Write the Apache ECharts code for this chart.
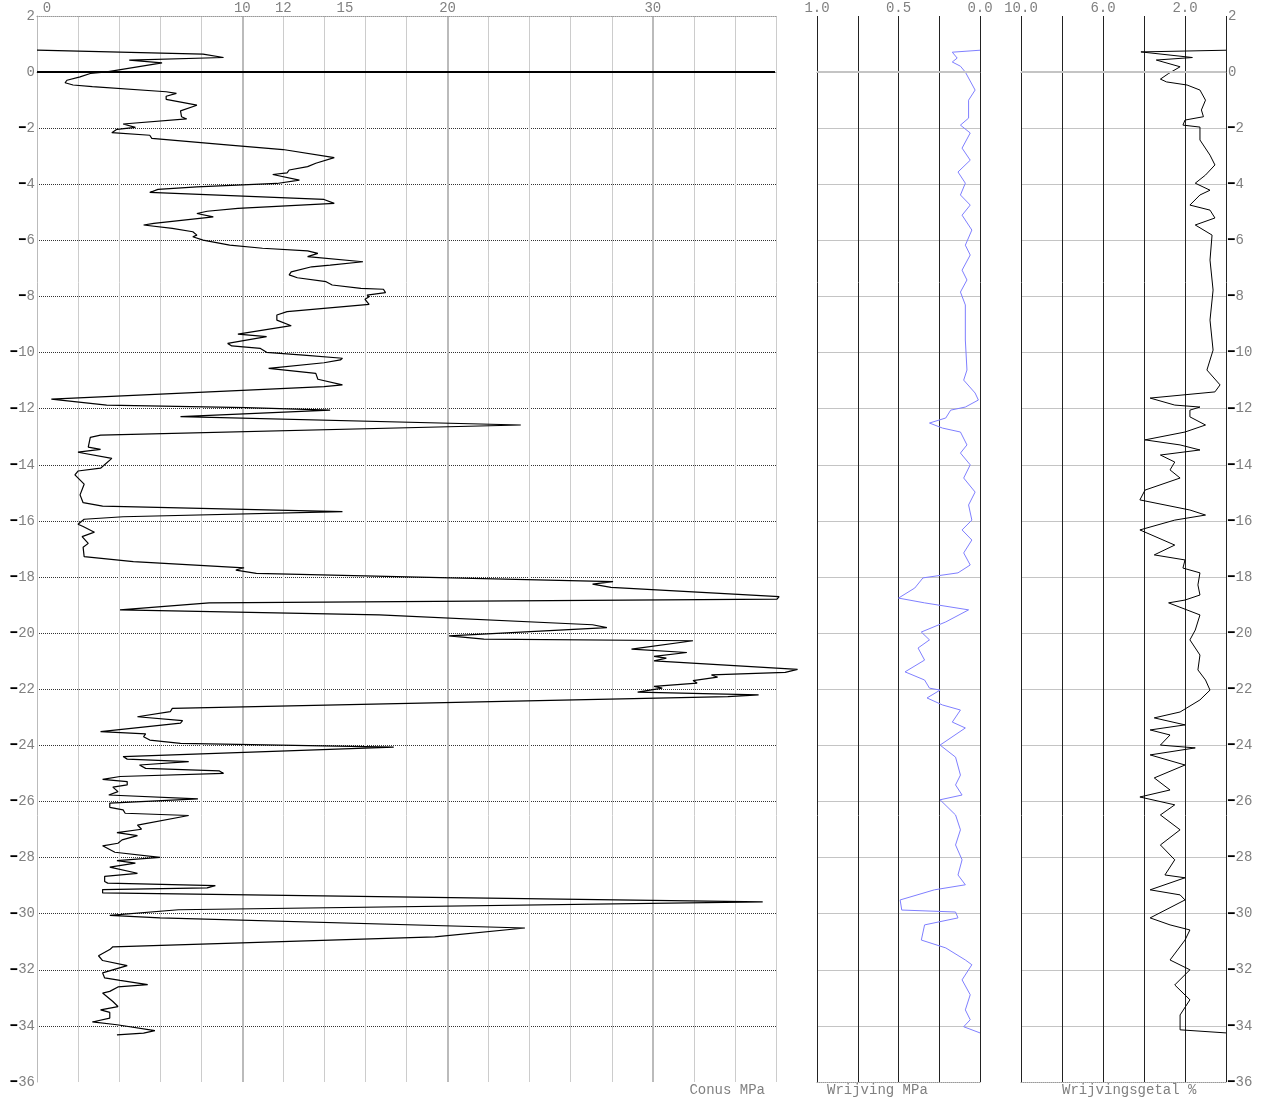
<!DOCTYPE html>
<html>
<head>
<meta charset="utf-8">
<script src="https://cdn.jsdelivr.net/npm/echarts@6/dist/echarts.min.js"></script>
<style>html,body{margin:0;padding:0;background:#fff}#c{width:1267px;height:1102px}</style>
</head>
<body>
<div id="c"></div>
<script>
// Conus [MPa, depth m]
const conus = [
[0,0.78],[8.1,0.64],[9.1,0.52],[4.5,0.43],[6.1,0.33],[3.4,0.01],[2.6,-0.05],[2.1,-0.17],[1.46,-0.29],[1.37,-0.38],[1.76,-0.46],[2.7,-0.52],
[6.3,-0.70],[6.8,-0.76],[6.3,-0.86],[6.3,-0.97],[7.8,-1.18],[7.0,-1.38],[7.05,-1.59],[7.3,-1.67],[4.2,-1.85],[4.8,-1.97],[3.9,-2.04],[3.65,-2.16],
[5.5,-2.25],[5.6,-2.36],[9.4,-2.60],[12.0,-2.76],[14.5,-3.05],[13.6,-3.25],[13.2,-3.37],[12.3,-3.49],[12.2,-3.59],[11.5,-3.65],[12.8,-3.85],[11.7,-3.97],
[7.8,-4.09],[5.9,-4.18],[5.5,-4.29],[14.0,-4.54],[14.5,-4.68],[9.8,-4.86],[8.3,-4.96],[7.8,-5.04],[8.6,-5.16],[5.7,-5.39],[5.2,-5.45],[6.6,-5.57],
[7.6,-5.69],[7.8,-5.81],[7.6,-5.87],[8.1,-5.99],[9.4,-6.17],[11.0,-6.28],[13.2,-6.37],[13.7,-6.46],[13.2,-6.58],[15.9,-6.76],[14.3,-6.88],[13.4,-6.94],
[12.4,-7.12],[12.3,-7.23],[12.7,-7.33],[14.1,-7.47],[14.4,-7.59],[15.8,-7.71],[16.9,-7.74],[17.0,-7.86],[16.1,-7.95],[16.2,-8.01],[16.0,-8.10],[16.2,-8.28],
[12.2,-8.54],[11.7,-8.66],[11.7,-8.84],[12.4,-9.04],[9.8,-9.34],[11.2,-9.43],[9.3,-9.67],[9.5,-9.76],[10.9,-9.85],[11.2,-9.99],[13.0,-10.09],[14.9,-10.20],
[14.8,-10.26],[14.0,-10.36],[11.3,-10.56],[13.6,-10.74],[13.7,-10.95],[14.9,-11.15],[14.0,-11.21],[0.7,-11.66],[3.4,-11.87],[10.2,-11.96],[14.3,-12.05],
[7.0,-12.28],[23.6,-12.58],[3.1,-12.94],[2.6,-13.02],[2.5,-13.37],[3.1,-13.45],[2.0,-13.55],[3.65,-13.77],[3.1,-14.12],[2.0,-14.22],[1.85,-14.36],
[2.3,-14.69],[2.1,-15.07],[2.25,-15.35],[3.2,-15.47],[14.9,-15.67],[4.2,-15.85],[2.3,-15.94],[2.0,-16.12],[2.25,-16.20],[2.8,-16.40],[2.2,-16.56],
[2.5,-16.80],[2.25,-16.94],[2.3,-17.27],[4.7,-17.45],[10.1,-17.67],[9.7,-17.75],[10.7,-17.87],[28.1,-18.16],[27.1,-18.25],[28.0,-18.37],[36.2,-18.70],
[36.1,-18.79],[8.4,-18.92],[4.05,-19.17],[16.7,-19.35],[27.1,-19.70],[27.8,-19.80],[20.1,-20.10],[21.8,-20.21],[32.0,-20.27],[29.0,-20.57],[31.7,-20.69],
[30.1,-20.83],[30.7,-20.89],[30.1,-20.99],[37.1,-21.29],[36.5,-21.40],[32.9,-21.49],[33.2,-21.57],[32.0,-21.69],[32.2,-21.78],[30.1,-21.90],[30.5,-21.96],
[29.3,-22.10],[35.2,-22.20],[33.7,-22.26],[6.6,-22.68],[6.5,-22.80],[4.9,-22.98],[7.1,-23.12],[7.0,-23.21],[3.1,-23.51],[5.3,-23.59],[5.2,-23.69],
[5.5,-23.81],[7.0,-23.93],[17.4,-24.06],[4.2,-24.40],[4.4,-24.49],[7.4,-24.58],[5.0,-24.70],[5.3,-24.82],[8.9,-24.91],[9.1,-25.00],[4.05,-25.11],
[3.2,-25.21],[4.4,-25.29],[4.4,-25.41],[3.7,-25.49],[3.95,-25.65],[3.5,-25.77],[3.55,-25.82],[7.85,-25.91],[3.55,-26.06],[3.55,-26.21],[4.2,-26.30],
[4.3,-26.42],[7.4,-26.50],[4.9,-26.84],[5.1,-26.99],[3.9,-27.11],[4.9,-27.22],[4.15,-27.37],[3.95,-27.49],[3.2,-27.58],[3.8,-27.81],[6.0,-27.99],
[3.9,-28.11],[4.8,-28.20],[3.55,-28.34],[4.9,-28.56],[3.3,-28.67],[3.3,-28.85],[3.45,-28.91],[8.7,-29.00],[8.3,-29.08],[3.2,-29.14],[3.2,-29.26],
[35.4,-29.58],[6.9,-29.86],[3.55,-30.06],[6.0,-30.15],[23.8,-30.51],[19.4,-30.83],[3.7,-31.18],[3.55,-31.28],[3.0,-31.50],[3.2,-31.67],[4.4,-31.85],
[3.2,-32.11],[3.3,-32.29],[4.05,-32.38],[5.4,-32.53],[3.95,-32.61],[3.55,-32.77],[3.2,-32.83],[3.7,-33.13],[3.95,-33.31],[3.1,-33.43],[3.55,-33.52],
[3.55,-33.72],[2.7,-33.86],[3.9,-33.96],[5.75,-34.17],[5.2,-34.26],[3.9,-34.32]
];
// Wrijving [MPa, depth m]
const wrijving = [
[0,0.78],[0.17,0.71],[0.14,0.5],[0.17,0.36],[0.12,0.21],[0.09,0],[0.03,-0.64],[0.07,-1.0],[0.07,-1.64],[0.12,-1.89],[0.06,-2.17],[0.11,-2.71],
[0.06,-3.14],[0.135,-3.56],[0.09,-3.96],[0.12,-4.38],[0.06,-4.74],[0.11,-5.10],[0.05,-5.63],[0.09,-6.17],[0.06,-6.52],[0.11,-7.06],[0.08,-7.41],
[0.12,-7.84],[0.09,-8.30],[0.09,-9.55],[0.08,-10.62],[0.10,-10.98],[0.03,-11.44],[0.01,-11.69],[0.09,-11.94],[0.18,-12.05],[0.21,-12.33],[0.31,-12.51],
[0.23,-12.69],[0.12,-12.83],[0.08,-13.29],[0.12,-13.58],[0.06,-14.0],[0.10,-14.47],[0.03,-14.97],[0.07,-15.43],[0.05,-15.97],[0.11,-16.32],[0.05,-16.68],
[0.10,-17.14],[0.06,-17.57],[0.135,-17.85],[0.35,-18.03],[0.40,-18.39],[0.50,-18.75],[0.34,-18.92],[0.07,-19.17],[0.21,-19.60],[0.36,-19.96],[0.31,-20.24],
[0.38,-20.53],[0.34,-20.96],[0.46,-21.38],[0.34,-21.67],[0.31,-21.96],[0.245,-22.03],[0.325,-22.31],[0.23,-22.56],[0.12,-22.74],[0.17,-23.17],[0.09,-23.38],
[0.245,-23.99],[0.15,-24.42],[0.12,-25.06],[0.15,-25.41],[0.11,-25.77],[0.245,-25.94],[0.15,-26.48],[0.12,-27.01],[0.15,-27.55],[0.11,-28.08],[0.135,-28.62],
[0.09,-28.97],[0.28,-29.15],[0.49,-29.51],[0.48,-29.87],[0.15,-29.94],[0.135,-30.15],[0.34,-30.40],[0.36,-30.94],[0.21,-31.22],[0.09,-31.65],[0.05,-31.82],
[0.11,-32.36],[0.06,-32.89],[0.09,-33.43],[0.06,-33.78],[0.10,-34.03],[0,-34.25]
];
// Wrijvingsgetal [%, depth m]
const wrijvingsgetal = [
[0,0.78],[4.15,0.72],[1.64,0.52],[3.4,0.43],[2.24,0.19],[2.8,-0.05],[3.2,-0.25],[2.9,-0.35],[1.9,-0.46],[1.27,-0.64],[1.0,-1.0],[1.2,-1.35],[1.1,-1.59],
[2.0,-1.71],[2.1,-1.89],[1.27,-1.96],[1.27,-2.42],[0.78,-2.96],[0.54,-3.31],[1.0,-3.67],[1.5,-3.96],[0.78,-4.21],[1.27,-4.38],[1.76,-4.74],[0.78,-4.92],
[0.54,-5.20],[1.5,-5.45],[0.68,-5.81],[0.78,-6.70],[0.63,-7.77],[0.78,-8.84],[0.63,-9.91],[0.93,-10.62],[0.29,-11.15],[0.54,-11.40],[3.7,-11.62],
[2.5,-11.87],[1.27,-11.94],[1.76,-12.05],[1.76,-12.29],[1.0,-12.58],[2.0,-12.83],[3.95,-13.11],[2.24,-13.29],[1.27,-13.47],[3.2,-13.65],[2.5,-13.90],
[2.73,-14.18],[2.24,-14.47],[3.95,-14.90],[4.2,-15.25],[1.76,-15.61],[1.0,-15.79],[2.5,-15.97],[4.2,-16.32],[2.5,-16.86],[3.5,-17.21],[2.0,-17.39],
[2.1,-17.68],[1.27,-17.85],[1.37,-18.28],[1.27,-18.64],[2.0,-18.82],[2.8,-18.92],[1.27,-19.35],[1.5,-19.89],[1.76,-20.24],[1.27,-20.78],[1.37,-21.31],
[1.0,-21.67],[0.78,-22.03],[1.27,-22.38],[2.24,-22.81],[3.5,-23.02],[2.0,-23.27],[3.7,-23.45],[2.73,-23.63],[3.2,-23.99],[1.5,-24.09],[3.7,-24.34],
[2.0,-24.70],[3.5,-25.16],[2.73,-25.59],[4.2,-25.84],[2.5,-26.12],[3.2,-26.48],[2.24,-27.01],[3.2,-27.55],[2.5,-28.08],[2.98,-28.62],[2.0,-28.72],
[3.7,-29.15],[2.24,-29.33],[2.0,-29.51],[3.7,-30.15],[2.73,-30.40],[1.76,-30.58],[2.0,-30.94],[2.73,-31.65],[1.76,-32.0],[2.5,-32.54],[1.76,-33.07],
[2.24,-33.61],[2.24,-34.14],[0,-34.25]
];
const conusLabels = [0, 10, 12, 15, 20, 30];
const wrijvingLabels = [1.0, 0.5, 0.0];
const getalLabels = [10, 6, 2];
const titles = ['Conus MPa', 'Wrijving MPa', 'Wrijvingsgetal %'];

const FONT = 'Liberation Mono';
const GREY = '#808080';
const chart = echarts.init(document.getElementById('c'), null, {renderer: 'canvas'});

function depthLabel(v) {
  if (v < 0) return '{m|━}{d|' + (-v) + '}';
  return '{d|' + v + '}';
}
const depthRich = {
  m: {color: '#000', fontFamily: 'DejaVu Sans Mono', fontSize: 11, fontWeight: 'bold', padding: [0, 1, 0, 0]},
  d: {color: GREY, fontFamily: FONT, fontSize: 14}
};

const grids = [
  {left: 37, top: 16, width: 739, height: 1066},
  {left: 817, top: 16, width: 163, height: 1066},
  {left: 1021, top: 16, width: 205, height: 1066},
  // same scale as grid 0 but wider, so conus peaks beyond 36 MPa are not clipped
  {left: 37, top: 16, width: 820, height: 1066}
];

const yBase = {type: 'value', min: -36, max: 2, interval: 2, axisTick: {show: false}};
const dotted = {show: true, lineStyle: {color: '#999', type: 'dotted', width: 1}};

const option = {
  animation: false,
  backgroundColor: '#fff',
  grid: grids,
  xAxis: [
    // 0: conus minor grid
    {gridIndex: 0, type: 'value', min: 0, max: 36, interval: 2, position: 'bottom',
     axisLine: dotted, axisTick: {show: false}, axisLabel: {show: false},
     splitLine: {show: true, showMinLine: false, lineStyle: {color: '#ccc', width: 1}}},
    // 1: conus labels (top)
    {gridIndex: 0, type: 'value', min: 0, max: 36, interval: 1, position: 'top',
     axisLine: dotted, axisTick: {show: false}, splitLine: {show: false},
     axisLabel: {show: true, margin: 1, color: GREY, fontFamily: FONT, fontSize: 14,
       formatter: function (v) {
         if (conusLabels.indexOf(v) < 0) return '';
         if (v === 0) return '{z|0}';
         return String(v);
       },
       rich: {z: {color: GREY, fontFamily: FONT, fontSize: 14, padding: [0, 0, 0, 20]}}}},
    // 2: conus major grid
    {gridIndex: 0, type: 'value', min: 0, max: 36, interval: 10, position: 'bottom',
     axisLine: {show: false}, axisTick: {show: false}, axisLabel: {show: false},
     splitLine: {show: true, showMinLine: false, showMaxLine: false, lineStyle: {color: '#bbb', width: 2}}},
    // 3: wrijving
    {gridIndex: 1, type: 'value', min: 0, max: 1, interval: 0.25, inverse: true, position: 'top',
     axisLine: dotted, axisTick: {show: false},
     axisLabel: {show: true, margin: 1, color: GREY, fontFamily: FONT, fontSize: 14,
       formatter: function (v) {
         return wrijvingLabels.some(function (l) { return Math.abs(l - v) < 1e-6; }) ? v.toFixed(1) : '';
       }},
     splitLine: {show: true, lineStyle: {color: '#222', width: 1}}},
    {gridIndex: 1, type: 'value', min: 0, max: 1, inverse: true, position: 'bottom',
     axisLine: dotted, axisTick: {show: false}, axisLabel: {show: false}, splitLine: {show: false}},
    // 5: wrijvingsgetal
    {gridIndex: 2, type: 'value', min: 0, max: 10, interval: 2, inverse: true, position: 'top',
     axisLine: dotted, axisTick: {show: false},
     axisLabel: {show: true, margin: 1, color: GREY, fontFamily: FONT, fontSize: 14,
       formatter: function (v) {
         return getalLabels.indexOf(v) >= 0 ? v.toFixed(1) : '';
       }},
     splitLine: {show: true, lineStyle: {color: '#222', width: 1}}},
    {gridIndex: 2, type: 'value', min: 0, max: 10, inverse: true, position: 'bottom',
     axisLine: dotted, axisTick: {show: false}, axisLabel: {show: false}, splitLine: {show: false}},
    // 7: hidden conus data axis (20.5 px per MPa, as grid 0)
    {gridIndex: 3, type: 'value', min: 0, max: 40, show: false}
  ],
  yAxis: [
    Object.assign({}, yBase, {gridIndex: 0, position: 'left',
      axisLine: {show: true, lineStyle: {color: '#bbb', width: 1}},
      axisLabel: {show: true, margin: 2, formatter: depthLabel, rich: depthRich},
      splitLine: {show: true, showMinLine: false, showMaxLine: false, lineStyle: {color: '#333', type: 'dotted', width: 1}}}),
    Object.assign({}, yBase, {gridIndex: 1, position: 'left',
      axisLine: {show: false}, axisLabel: {show: false},
      splitLine: {show: true, showMinLine: false, showMaxLine: false, lineStyle: {color: '#c4c4c4', width: 1}}}),
    Object.assign({}, yBase, {gridIndex: 2, position: 'right',
      axisLine: {show: false},
      axisLabel: {show: true, margin: 2, formatter: depthLabel, rich: depthRich},
      splitLine: {show: true, showMinLine: false, showMaxLine: false, lineStyle: {color: '#c4c4c4', width: 1}}}),
    {gridIndex: 3, type: 'value', min: -36, max: 2, show: false}
  ],
  series: [
    {type: 'line', xAxisIndex: 7, yAxisIndex: 3, data: conus, symbol: 'none', clip: false,
     lineStyle: {color: '#000', width: 1.2},
     markLine: {silent: true, symbol: 'none', label: {show: false},
       lineStyle: {color: '#000', width: 2, type: 'solid'},
       data: [[{coord: [0, 0]}, {coord: [36, 0]}]]}},
    {type: 'line', xAxisIndex: 3, yAxisIndex: 1, data: wrijving, symbol: 'none', clip: false,
     lineStyle: {color: '#7f7fff', width: 1},
     markLine: {silent: true, symbol: 'none', label: {show: false},
       lineStyle: {color: '#c4c4c4', width: 2, type: 'solid'}, data: [{yAxis: 0}]}},
    {type: 'line', xAxisIndex: 5, yAxisIndex: 2, data: wrijvingsgetal, symbol: 'none', clip: false,
     lineStyle: {color: '#000', width: 1},
     markLine: {silent: true, symbol: 'none', label: {show: false},
       lineStyle: {color: '#c4c4c4', width: 2, type: 'solid'}, data: [{yAxis: 0}]}}
  ],
  graphic: [
    {type: 'text', x: 765, y: 1090, style: {text: titles[0], fill: GREY, font: '14px "Liberation Mono"', textAlign: 'right', textVerticalAlign: 'middle'}},
    {type: 'text', x: 827, y: 1090, style: {text: titles[1], fill: GREY, font: '14px "Liberation Mono"', textAlign: 'left', textVerticalAlign: 'middle'}},
    {type: 'text', x: 1062, y: 1090, style: {text: titles[2], fill: GREY, font: '14px "Liberation Mono"', textAlign: 'left', textVerticalAlign: 'middle'}}
  ]
};
chart.setOption(option);
</script>
</body>
</html>
